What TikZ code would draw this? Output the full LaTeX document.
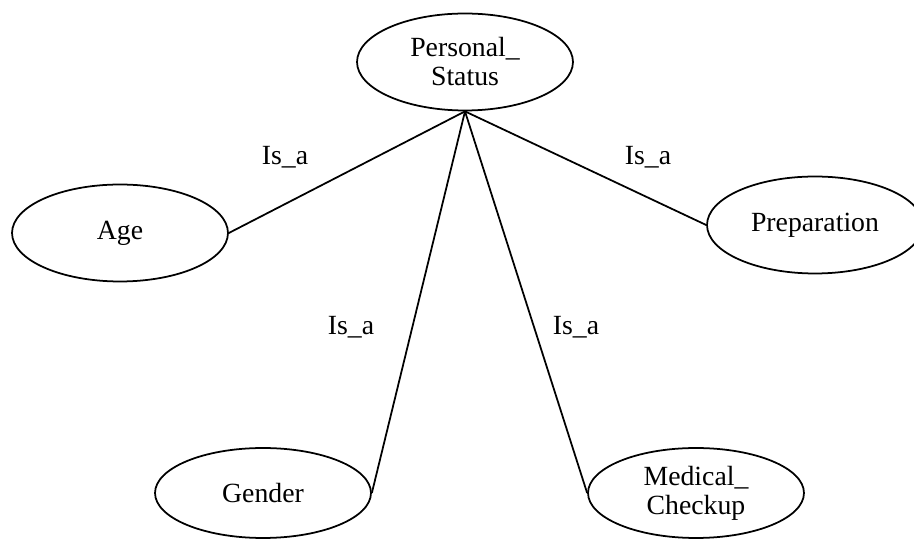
\documentclass[tikz,border=0pt]{standalone}
\usepackage{fontspec}
\setmainfont{Liberation Serif}
\usepackage{tikz}
\usetikzlibrary{shapes.geometric}
\tikzset{
  ov/.style={ellipse,draw,line width=1pt,minimum width=4.32cm,minimum height=1.94cm,inner sep=0pt,align=center,
    font=\fontsize{15.8}{16.5}\selectfont},
  lnk/.style={line width=1pt},
  lbl/.style={font=\fontsize{15.8}{16.5}\selectfont,inner sep=0pt}
}
\begin{document}
\begin{tikzpicture}[x=0.02cm,y=-0.02cm]
\useasboundingbox (0,0) rectangle (914,540);
\node[ov] (ps) at (465,62) {Personal\_\\Status};
\node[ov] (age) at (120,233) {Age};
\node[ov] (prep) at (815,225) {Preparation};
\node[ov,minimum height=1.8cm] (gen) at (263,493) {Gender};
\node[ov,minimum height=1.8cm] (med) at (696,493) {Medical\_\\Checkup};
% Is_a links
\draw[lnk] (ps.south) -- (age.east);
\draw[lnk] (ps.south) -- (prep.west);
\draw[lnk] (ps.south) -- (gen.east);
\draw[lnk] (ps.south) -- (med.west);
\node[lbl] (la) at (285,157) {Is\_a};
\node[lbl] (lp) at (648,157) {Is\_a};
\node[lbl] (lg) at (351,327) {Is\_a};
\node[lbl] (lm) at (576,327) {Is\_a};
\end{tikzpicture}
\end{document}
